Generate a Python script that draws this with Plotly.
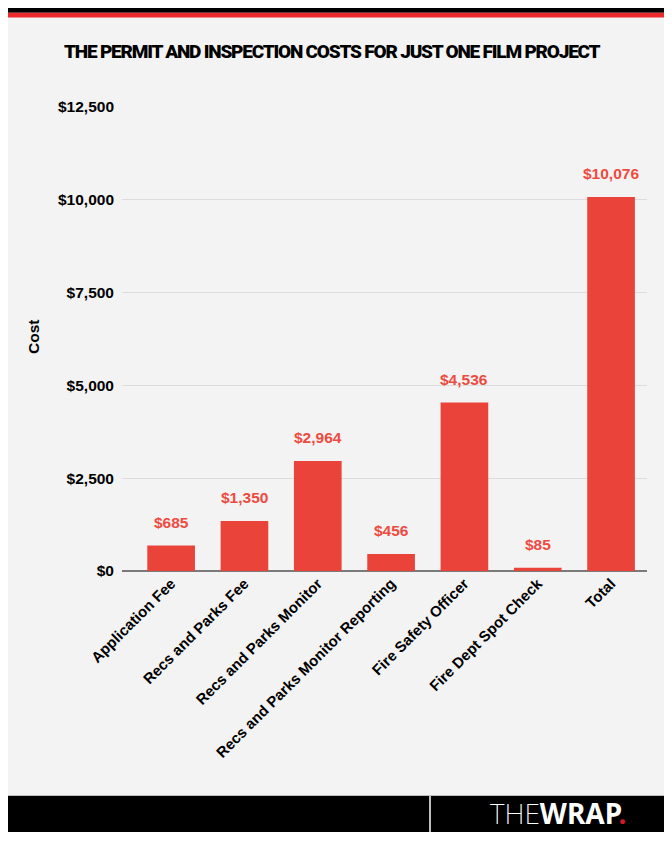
import plotly.graph_objects as go

# ---- data ----
categories = ["Application Fee", "Recs and Parks Fee", "Recs and Parks Monitor",
              "Recs and Parks Monitor Reporting", "Fire Safety Officer",
              "Fire Dept Spot Check", "Total"]
costs = [685, 1350, 2964, 456, 4536, 85, 10076]
value_labels = ["$685", "$1,350", "$2,964", "$456", "$4,536", "$85", "$10,076"]
tick_vals = [0, 2500, 5000, 7500, 10000, 12500]
tick_labels = ["$0", "$2,500", "$5,000", "$7,500", "$10,000", "$12,500"]

# ---- layout constants (pixels, in the 672x844 window) ----
OFF = 8                       # browser body margin
W, H = 672 - OFF, 844 - OFF   # figure size
PL, PR, PT, PB = 122, 647, 107, 571  # plot area edges in window pixels

def px_x(x):
    return (x - PL) / (PR - PL)

def px_y(y):
    return (PB - y) / (PB - PT)

BAR = "#E9433A"
LABEL = "#EE4A3F"
FONT = "Liberation Sans, Arial, sans-serif"

fig = go.Figure()
fig.add_trace(go.Bar(
    x=categories, y=costs, marker=dict(color=BAR, line=dict(width=0)),
    width=0.65, hoverinfo="skip",
))

annotations = []
for c, v, t in zip(categories, costs, value_labels):
    annotations.append(dict(
        x=c, y=v, xref="x", yref="y", text=t, showarrow=False,
        yanchor="bottom", yshift=13,
        font=dict(family=FONT, size=15.5, color=LABEL, weight="bold"),
    ))

# title
title_text = "THE PERMIT AND INSPECTION COSTS FOR JUST ONE FILM PROJECT"
annotations.append(dict(
    x=px_x(332), y=px_y(52), xref="paper", yref="paper",
    text="<span style='letter-spacing:-1.2px'>" + title_text + "</span>",
    showarrow=False, xanchor="center", yanchor="middle",
    font=dict(family="Roboto, sans-serif", size=19, color="#000000", weight=900),
))
# y-axis title
annotations.append(dict(
    x=px_x(33), y=px_y(337), xref="paper", yref="paper", text="Cost",
    showarrow=False, textangle=-90, xanchor="center", yanchor="middle",
    font=dict(family=FONT, size=15.5, color="#000000", weight="bold"),
))
# logo
annotations.append(dict(
    x=px_x(628), y=px_y(813), xref="paper", yref="paper",
    text=("<span style='font-weight:200'>THE</span>"
          "<span style='font-weight:bold'>WRAP</span>"
          "<span style='color:#D7182A;font-weight:bold'>.</span>"),
    showarrow=False, xanchor="right", yanchor="middle",
    font=dict(family="Noto Sans", size=28, color="#FFFFFF"),
))

shapes = [
    # light panel
    dict(type="rect", xref="paper", yref="paper", x0=px_x(7), x1=px_x(665),
         y0=px_y(795), y1=px_y(17), fillcolor="#F3F3F3", line=dict(width=0), layer="below"),
    # top black bar
    dict(type="rect", xref="paper", yref="paper", x0=px_x(7), x1=px_x(665),
         y0=px_y(12.7), y1=px_y(6.5), fillcolor="#000000", line=dict(width=0), layer="below"),
    # red stripe
    dict(type="rect", xref="paper", yref="paper", x0=px_x(7), x1=px_x(665),
         y0=px_y(17.5), y1=px_y(12.7), fillcolor="#EC2A2E", line=dict(width=0), layer="below"),
    # footer
    dict(type="rect", xref="paper", yref="paper", x0=px_x(7), x1=px_x(665),
         y0=px_y(832), y1=px_y(796), fillcolor="#000000", line=dict(width=0), layer="below"),
    dict(type="line", xref="paper", yref="paper", x0=px_x(7), x1=px_x(665),
         y0=px_y(795.5), y1=px_y(795.5), line=dict(color="#BDBDBD", width=1), layer="below"),
    dict(type="line", xref="paper", yref="paper", x0=px_x(430), x1=px_x(430),
         y0=px_y(832), y1=px_y(796), line=dict(color="#FFFFFF", width=1.5), layer="below"),
]

fig.update_layout(
    width=W, height=H, autosize=False,
    margin=dict(l=PL - OFF, r=W - (PR - OFF), t=PT - OFF, b=H - (PB - OFF), pad=0),
    paper_bgcolor="#FFFFFF", plot_bgcolor="rgba(0,0,0,0)",
    showlegend=False,
    annotations=annotations, shapes=shapes,
    font=dict(family=FONT, color="#000000"),
)
fig.update_xaxes(
    range=[-0.67, 6.49], tickangle=-45, showgrid=False, showline=False,
    ticks="", tickfont=dict(family=FONT, size=15, color="#000000", weight="bold"),
    fixedrange=True,
)
fig.update_yaxes(
    range=[0, 12500], tickvals=tick_vals, ticktext=tick_labels,
    showgrid=True, gridcolor="#DCDCDC", gridwidth=1,
    zeroline=True, zerolinecolor="#7A7A7A", zerolinewidth=1.5,
    showline=False, ticks="", ticklabelstandoff=7,
    tickfont=dict(family=FONT, size=15.5, color="#000000", weight="bold"),
    fixedrange=True,
)

fig.write_html("out.html")
